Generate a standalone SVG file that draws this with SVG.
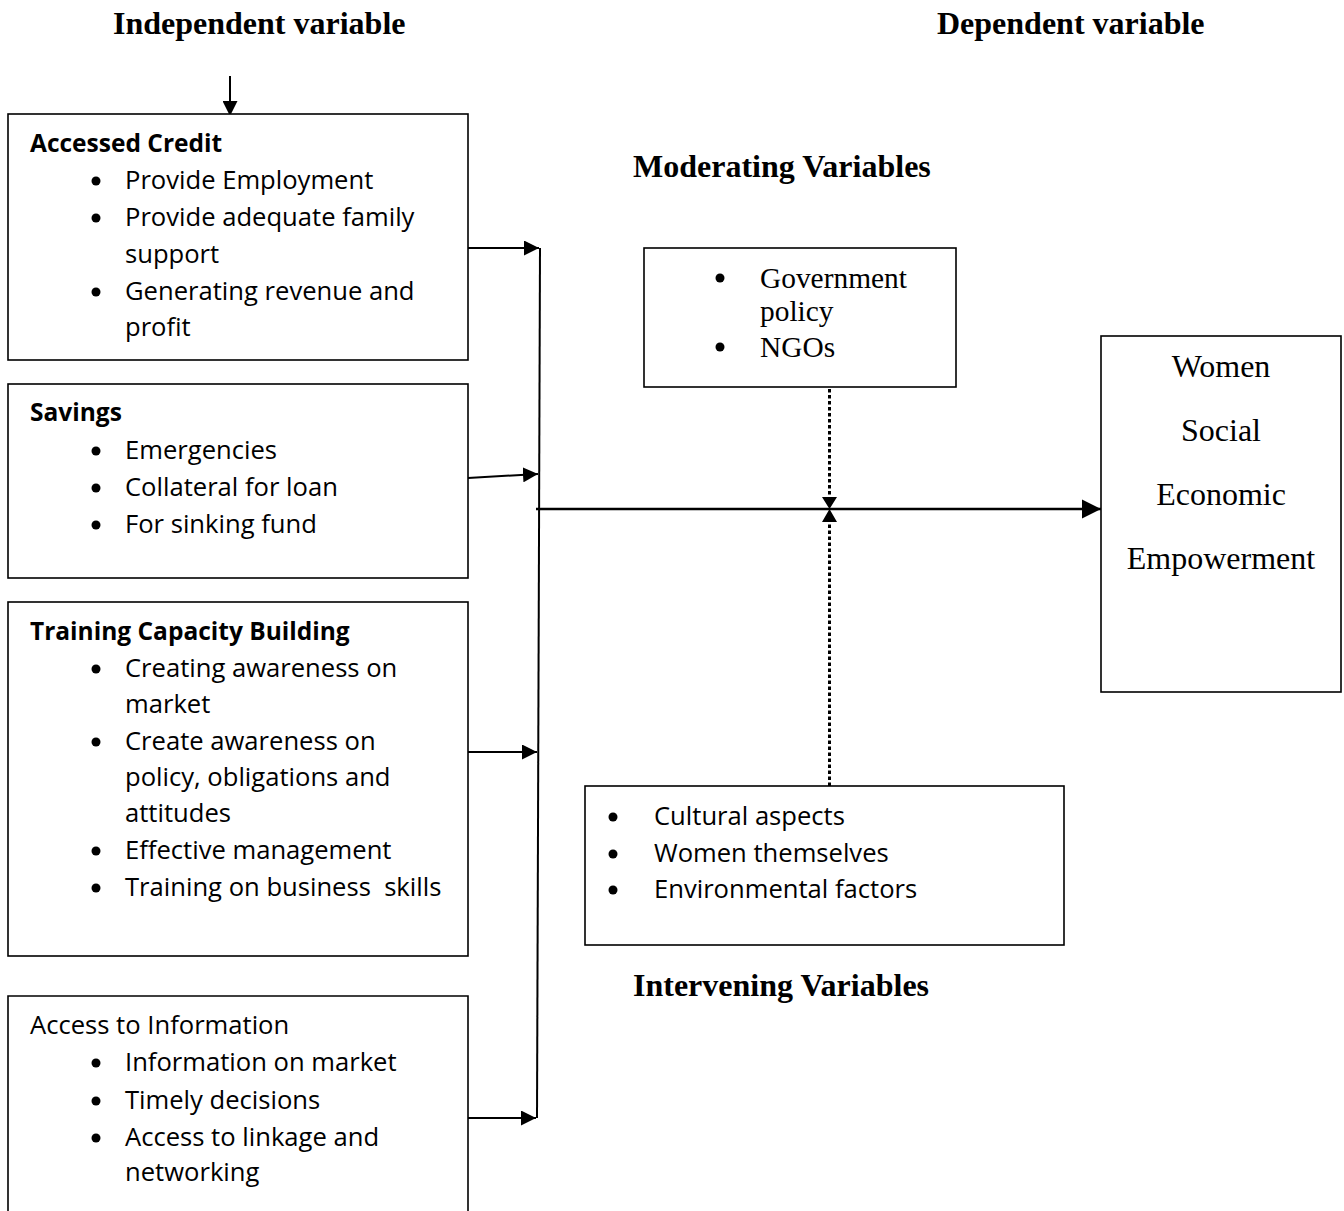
<svg xmlns="http://www.w3.org/2000/svg" width="1344" height="1211" viewBox="0 0 1344 1211">
<style>
.box{fill:#fff;stroke:#000;stroke-width:1.6}
.b{font-family:"Open Sans","Liberation Sans",sans-serif;font-size:25.6px;fill:#000}
.bb{font-weight:bold;font-size:24.5px}
.t{font-family:"Liberation Serif","Times New Roman",serif;font-size:29.4px;fill:#000}
.d{font-family:"Liberation Serif","Times New Roman",serif;font-size:32px;fill:#000;text-anchor:middle}
.h{font-family:"Liberation Serif","Times New Roman",serif;font-size:32px;font-weight:bold;fill:#000}
.ln{stroke:#000;stroke-width:2;fill:none}
.dot{stroke:#000;stroke-width:3;stroke-dasharray:3.5 2.5;fill:none}
</style>
<defs>
<marker id="ah2" viewBox="0 0 10 10" refX="10" refY="5" markerWidth="7.5" markerHeight="7.5" orient="auto">
<path d="M0,0 L10,5 L0,10 z" fill="#000"/>
</marker>
</defs>
<rect width="1344" height="1211" fill="#fff"/>

<text class="h" x="113" y="34">Independent variable</text>
<text class="h" x="937" y="34">Dependent variable</text>
<text class="h" x="633" y="177">Moderating Variables</text>
<text class="h" x="633" y="996">Intervening Variables</text>

<g id="connectors">
<line class="ln" x1="230" y1="76" x2="230" y2="116" marker-end="url(#ah2)"/>
<line class="ln" x1="468" y1="248" x2="539" y2="248" marker-end="url(#ah2)"/>
<line class="ln" x1="468" y1="478" x2="538" y2="474" marker-end="url(#ah2)"/>
<line class="ln" x1="468" y1="752" x2="537" y2="752" marker-end="url(#ah2)"/>
<line class="ln" x1="468" y1="1118" x2="536" y2="1118" marker-end="url(#ah2)"/>
<line class="ln" x1="540" y1="248" x2="537" y2="1118"/>
<line x1="536" y1="509" x2="1101" y2="509" stroke="#000" stroke-width="2.6" marker-end="url(#ah2)"/>
<line class="dot" x1="829.5" y1="389" x2="829.5" y2="498"/>
<line class="dot" x1="829.5" y1="786" x2="829.5" y2="522"/>
<path d="M822,497 L837,497 L829.5,509 z M822,522 L837,522 L829.5,509 z" fill="#000"/>
</g>

<g id="accessed-credit">
<rect class="box" x="8" y="114" width="460" height="246"/>
<text class="b bb" x="30" y="152">Accessed Credit</text>
<circle cx="96" cy="181" r="4.5"/><text class="b" x="125" y="189">Provide Employment</text>
<circle cx="96" cy="218" r="4.5"/><text class="b" x="125" y="226">Provide adequate family</text>
<text class="b" x="125" y="263">support</text>
<circle cx="96" cy="292" r="4.5"/><text class="b" x="125" y="300">Generating revenue and</text>
<text class="b" x="125" y="336">profit</text>
</g>

<g id="savings">
<rect class="box" x="8" y="384" width="460" height="194"/>
<text class="b bb" x="30" y="421">Savings</text>
<circle cx="96" cy="451" r="4.5"/><text class="b" x="125" y="459">Emergencies</text>
<circle cx="96" cy="488" r="4.5"/><text class="b" x="125" y="496">Collateral for loan</text>
<circle cx="96" cy="525" r="4.5"/><text class="b" x="125" y="533">For sinking fund</text>
</g>

<g id="training">
<rect class="box" x="8" y="602" width="460" height="354"/>
<text class="b bb" x="30" y="640">Training Capacity Building</text>
<circle cx="96" cy="669" r="4.5"/><text class="b" x="125" y="677">Creating awareness on</text>
<text class="b" x="125" y="713">market</text>
<circle cx="96" cy="742" r="4.5"/><text class="b" x="125" y="750">Create awareness on</text>
<text class="b" x="125" y="786">policy, obligations and</text>
<text class="b" x="125" y="822">attitudes</text>
<circle cx="96" cy="851" r="4.5"/><text class="b" x="125" y="859">Effective management</text>
<circle cx="96" cy="888" r="4.5"/><text class="b" x="125" y="896" xml:space="preserve">Training on business  skills</text>
</g>

<g id="access-info">
<path class="box" d="M8,1212 V996 H468 V1212"/>
<text class="b" x="30" y="1034">Access to Information</text>
<circle cx="96" cy="1063" r="4.5"/><text class="b" x="125" y="1071">Information on market</text>
<circle cx="96" cy="1101" r="4.5"/><text class="b" x="125" y="1109">Timely decisions</text>
<circle cx="96" cy="1138" r="4.5"/><text class="b" x="125" y="1146">Access to linkage and</text>
<text class="b" x="125" y="1181">networking</text>
</g>

<g id="moderating">
<rect class="box" x="644" y="248" width="312" height="139"/>
<circle cx="720" cy="278" r="4.5"/><text class="t" x="760" y="288">Government</text>
<text class="t" x="760" y="321">policy</text>
<circle cx="720" cy="347" r="4.5"/><text class="t" x="760" y="357">NGOs</text>
</g>

<g id="intervening">
<rect class="box" x="585" y="786" width="479" height="159"/>
<circle cx="613" cy="817" r="4.5"/><text class="b" x="654" y="825">Cultural aspects</text>
<circle cx="613" cy="854" r="4.5"/><text class="b" x="654" y="862">Women themselves</text>
<circle cx="613" cy="890" r="4.5"/><text class="b" x="654" y="898">Environmental factors</text>
</g>

<g id="dependent">
<rect class="box" x="1101" y="336" width="240" height="356"/>
<text class="d" x="1221" y="377">Women</text>
<text class="d" x="1221" y="441">Social</text>
<text class="d" x="1221" y="505">Economic</text>
<text class="d" x="1221" y="569">Empowerment</text>
</g>
</svg>
